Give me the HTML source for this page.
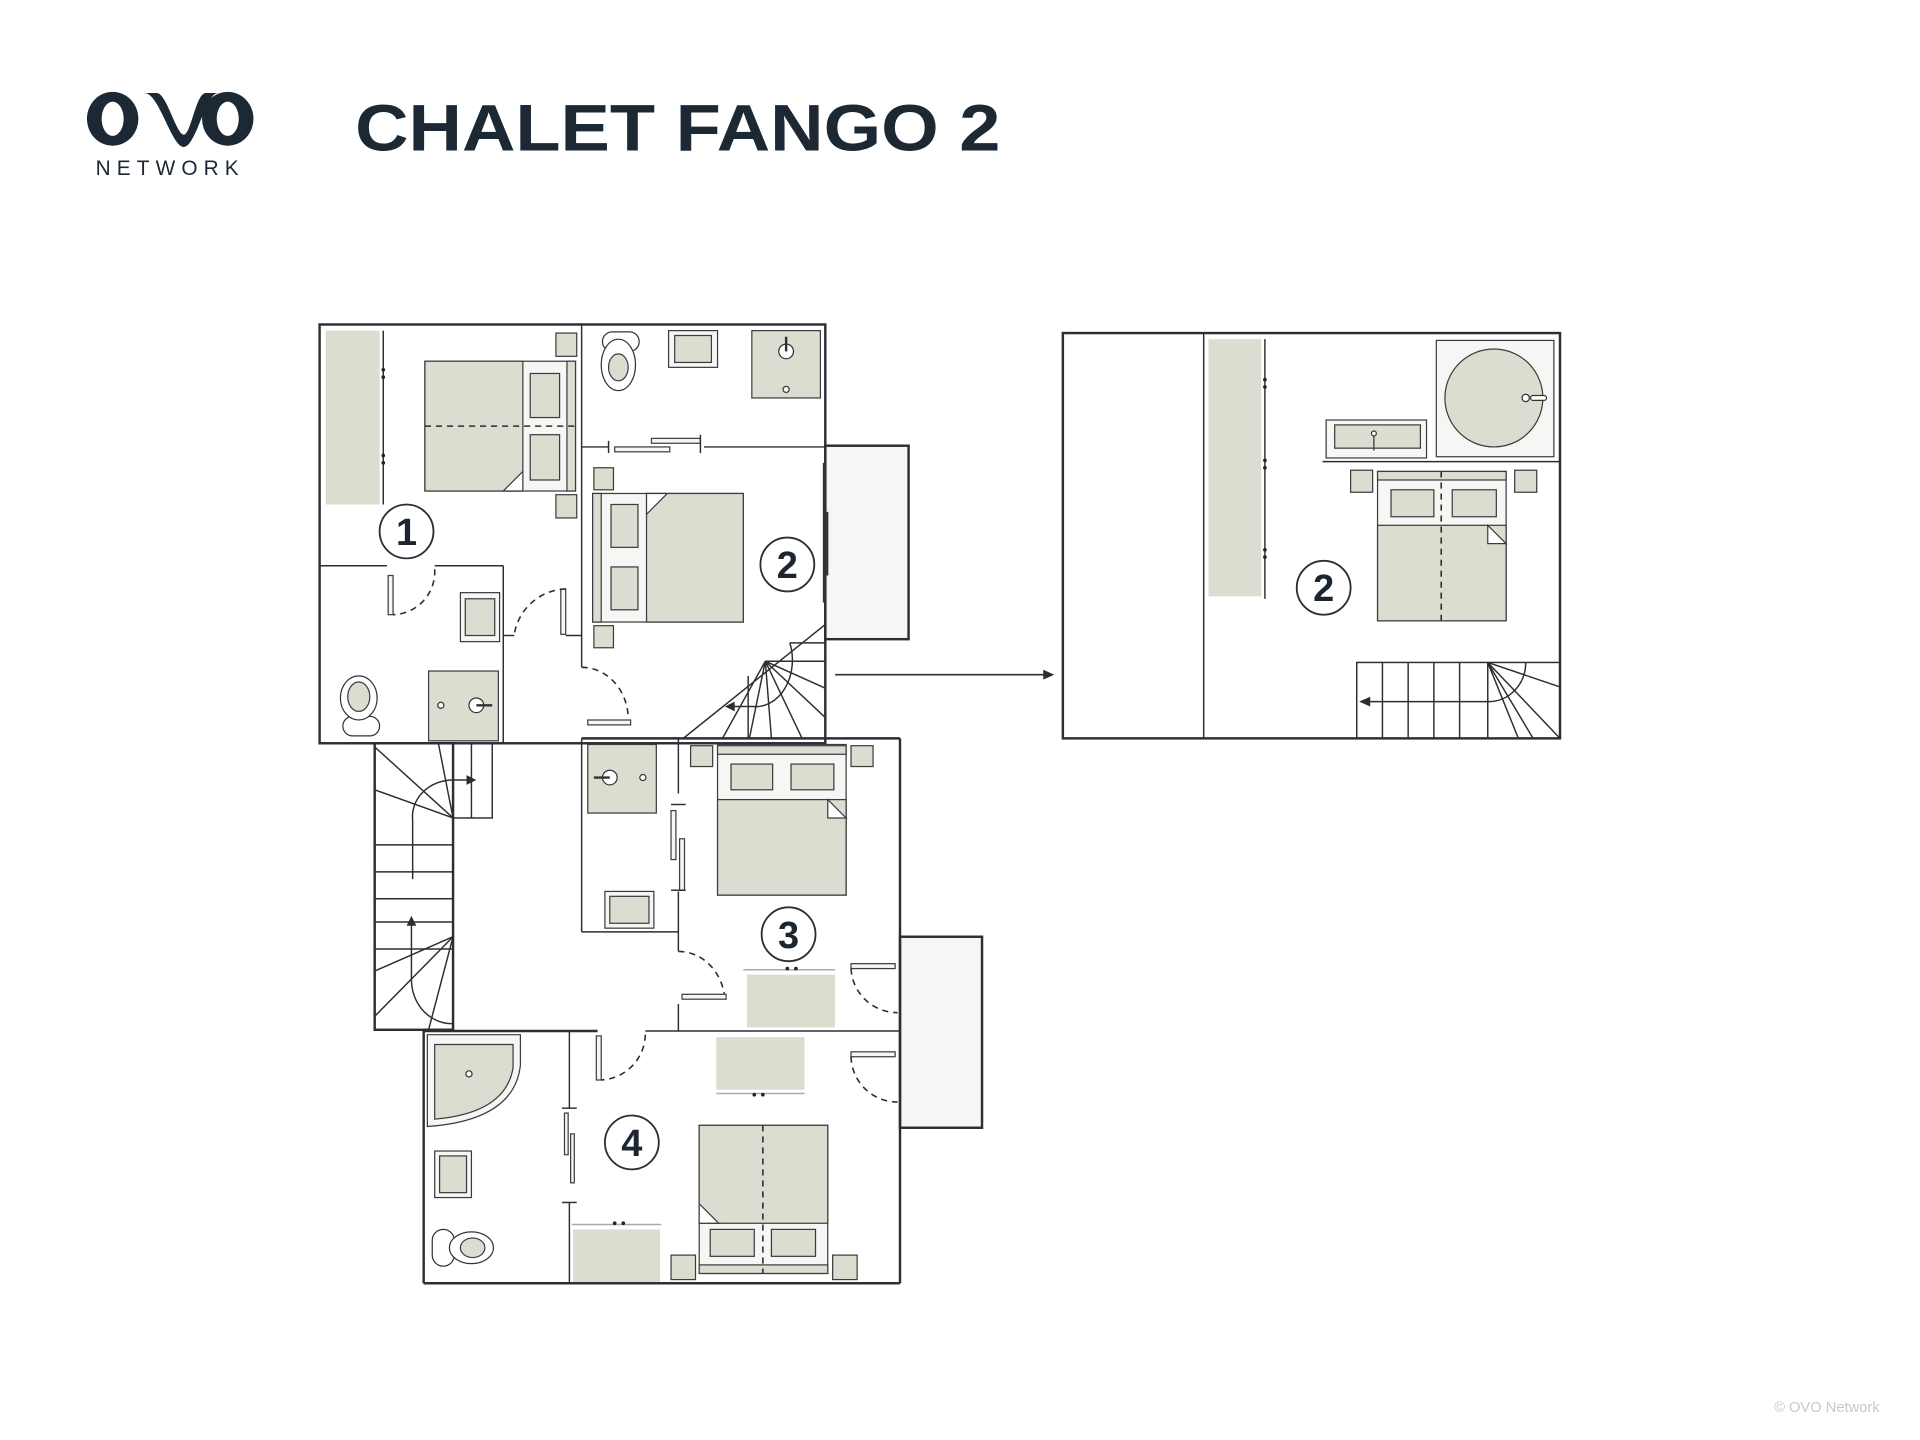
<!DOCTYPE html>
<html><head><meta charset="utf-8"><style>
html,body{margin:0;padding:0;background:#fff;}
svg{display:block}
</style></head><body>
<svg width="1920" height="1440" viewBox="0 0 1568 1176" preserveAspectRatio="none" xmlns="http://www.w3.org/2000/svg">
<defs>
<style>
.w{fill:none;stroke:#2b2f33;stroke-width:2}
.t{fill:none;stroke:#2b2f33;stroke-width:1.2}
.f{fill:#dcddd0;stroke:#3a3d3f;stroke-width:1}
.ff{fill:#dcddd0;stroke:none}
.wh{fill:#f6f6f4;stroke:#3a3d3f;stroke-width:1}
.d{fill:none;stroke:#2b2f33;stroke-width:1.3;stroke-dasharray:5 4}
.c{fill:#fff;stroke:#2b2f33;stroke-width:1.5}
.n{font-family:"Liberation Sans",sans-serif;font-weight:bold;font-size:31px;fill:#1c2530;text-anchor:middle}
</style>
</defs>
<!-- logo -->
<g fill="#1c2833">
<ellipse cx="92" cy="97" rx="21" ry="22"/>
<ellipse cx="186" cy="97" rx="21" ry="22"/>
<path d="M118 76 C130 76 140 120 150 120 C160 120 168 76 178 76 L168 76 C160 76 156 110 150 110 C144 110 136 76 128 76Z"/>
</g>
<ellipse cx="92" cy="97" rx="9" ry="14" fill="#fff"/>
<ellipse cx="186" cy="97" rx="9" ry="14" fill="#fff"/>
<text x="139" y="143" font-family="Liberation Sans,sans-serif" font-size="17" fill="#1c2833" text-anchor="middle" letter-spacing="5">NETWORK</text>
<text x="290" y="123" font-family="Liberation Sans,sans-serif" font-weight="bold" font-size="54" fill="#1c2833" textLength="527" lengthAdjust="spacingAndGlyphs">CHALET FANGO 2</text>
<text x="1535" y="1153" font-family="Liberation Sans,sans-serif" font-size="12" fill="#c8c8c8" text-anchor="end">© OVO Network</text>

<!-- balconies -->
<rect x="674" y="364" width="68" height="158" class="w" style="fill:#f6f6f6"/>
<rect x="735" y="765" width="67" height="156" class="w" style="fill:#f6f6f6"/>

<!-- main walls -->
<rect x="261" y="265" width="413" height="342" class="w"/>
<line x1="475" y1="265" x2="475" y2="545" class="t"/>
<line x1="475" y1="365" x2="497" y2="365" class="t"/><line x1="575" y1="365" x2="674" y2="365" class="t"/>
<line x1="261" y1="462" x2="316" y2="462" class="t"/><line x1="355" y1="462" x2="411" y2="462" class="t"/>
<line x1="411" y1="462" x2="411" y2="607" class="t"/>
<line x1="674" y1="510" x2="674" y2="603" class="t"/>
<line x1="558" y1="603" x2="674" y2="603" class="t"/>
<line x1="558" y1="603" x2="674" y2="510" class="t"/>
<g class="t">
<line x1="625" y1="540" x2="674" y2="540"/><line x1="625" y1="540" x2="674" y2="562"/><line x1="625" y1="540" x2="674" y2="586"/>
<line x1="625" y1="540" x2="655" y2="603"/><line x1="625" y1="540" x2="630" y2="603"/><line x1="625" y1="540" x2="612" y2="603"/>
<line x1="625" y1="540" x2="590" y2="603"/><line x1="645" y1="525" x2="674" y2="525"/>
<line x1="611" y1="552" x2="611" y2="603"/>
<path d="M645 525 A30 38 0 0 1 615 577 L598 577"/>
</g>
<polygon points="592,577 600,573 600,581" fill="#2b2f33"/>
<!-- left stair -->
<rect x="306" y="607" width="64" height="234" class="w"/>
<rect x="370" y="607" width="32" height="61" class="t"/>
<g class="t">
<line x1="306" y1="610" x2="370" y2="668"/><line x1="306" y1="645" x2="370" y2="668"/><line x1="358" y1="607" x2="370" y2="668"/>
<line x1="385" y1="607" x2="385" y2="668"/>
<line x1="306" y1="690" x2="370" y2="690"/><line x1="306" y1="712" x2="370" y2="712"/><line x1="306" y1="734" x2="370" y2="734"/>
<line x1="306" y1="753" x2="370" y2="753"/><line x1="306" y1="775" x2="370" y2="775"/>
<line x1="306" y1="793" x2="370" y2="765"/><line x1="306" y1="830" x2="370" y2="765"/><line x1="350" y1="841" x2="370" y2="765"/>
<path d="M337 718 L337 670 A33 30 0 0 1 370 637 L383 637"/>
<path d="M336 755 L336 800 A33 36 0 0 0 370 836"/>
</g>
<polygon points="389,637 381,633 381,641" fill="#2b2f33"/>
<polygon points="336,748 332,756 340,756" fill="#2b2f33"/>
<!-- room 3 block -->
<line x1="475" y1="603" x2="735" y2="603" class="w"/>
<line x1="735" y1="603" x2="735" y2="1048" class="w"/>
<line x1="475" y1="603" x2="475" y2="761" class="t"/>
<line x1="475" y1="761" x2="554" y2="761" class="t"/>
<line x1="554" y1="603" x2="554" y2="648" class="t"/><line x1="554" y1="728" x2="554" y2="777" class="t"/><line x1="554" y1="820" x2="554" y2="842" class="t"/>
<!-- room 4 block -->
<line x1="346" y1="842" x2="488" y2="842" class="w"/><line x1="527" y1="842" x2="735" y2="842" class="t"/>
<line x1="346" y1="842" x2="346" y2="1048" class="w"/>
<line x1="346" y1="1048" x2="735" y2="1048" class="w"/>
<line x1="465" y1="842" x2="465" y2="905" class="t"/><line x1="465" y1="982" x2="465" y2="1048" class="t"/>
<line x1="370" y1="841" x2="346" y2="841" class="w"/>

<!-- room1 furniture -->
<rect x="266" y="270" width="44" height="142" class="ff"/>
<line x1="313" y1="270" x2="313" y2="412" class="t"/>
<g fill="#222"><circle cx="313" cy="302" r="1.5"/><circle cx="313" cy="308" r="1.5"/><circle cx="313" cy="372" r="1.5"/><circle cx="313" cy="378" r="1.5"/></g>
<rect x="347" y="295" width="123" height="106" class="wh"/>
<rect x="347" y="295" width="80" height="106" class="f"/>
<rect x="433" y="305" width="24" height="36" class="f"/><rect x="433" y="355" width="24" height="37" class="f"/>
<rect x="463" y="295" width="7" height="106" class="f"/>
<polygon points="411,401 427,385 427,401" fill="#fff" stroke="#3a3d3f"/>
<line x1="347" y1="348" x2="470" y2="348" class="d" stroke-width="1"/>
<rect x="454" y="272" width="17" height="19" class="f"/><rect x="454" y="404" width="17" height="19" class="f"/>
<circle cx="332" cy="434" r="22" class="c"/><text x="332" y="445" class="n">1</text>
<!-- bath1 -->
<rect x="317" y="470" width="4" height="32" class="wh"/>
<path d="M355 465 A35 35 0 0 1 321 502" class="d"/>
<rect x="376" y="484" width="32" height="40" class="wh"/><rect x="380" y="489" width="24" height="30" class="f"/>
<rect x="350" y="548" width="57" height="57" class="f"/>
<circle cx="389" cy="576" r="6" fill="#fff" stroke="#333"/><line x1="389" y1="576" x2="402" y2="576" stroke="#333" stroke-width="2"/><circle cx="360" cy="576" r="2.5" fill="#fff" stroke="#333"/>
<rect x="280" y="585" width="30" height="16" rx="8" fill="#fff" stroke="#333"/>
<ellipse cx="293" cy="570" rx="15" ry="18" fill="#fff" stroke="#333"/><ellipse cx="293" cy="569" rx="9" ry="12" class="f"/>
<rect x="458" y="481" width="4" height="37" class="wh"/>
<path d="M462 481 A44 44 0 0 0 420 518" class="d"/>
<line x1="411" y1="519" x2="420" y2="519" class="t"/><line x1="462" y1="519" x2="475" y2="519" class="t"/>
<!-- room2 bath top -->
<rect x="492" y="271" width="30" height="16" rx="8" fill="#fff" stroke="#333"/>
<ellipse cx="505" cy="298" rx="14" ry="21" fill="#fff" stroke="#333"/><ellipse cx="505" cy="300" rx="8" ry="11" class="f"/>
<rect x="546" y="270" width="40" height="30" class="wh"/><rect x="551" y="274" width="30" height="22" class="f"/>
<rect x="614" y="270" width="56" height="55" class="f"/>
<circle cx="642" cy="287" r="6" fill="#fff" stroke="#333"/><line x1="642" y1="275" x2="642" y2="287" stroke="#333" stroke-width="2"/><circle cx="642" cy="318" r="2.5" fill="#fff" stroke="#333"/>
<rect x="502" y="365" width="45" height="4" class="wh"/><rect x="532" y="358" width="40" height="4" class="wh"/>
<line x1="497" y1="360" x2="497" y2="370" class="t"/><line x1="572" y1="355" x2="572" y2="370" class="t"/>
<!-- room2 -->
<rect x="484" y="403" width="123" height="105" class="wh"/>
<rect x="528" y="403" width="79" height="105" class="f"/>
<rect x="484" y="403" width="7" height="105" class="f"/>
<rect x="499" y="412" width="22" height="35" class="f"/><rect x="499" y="463" width="22" height="35" class="f"/>
<polygon points="528,403 545,403 528,420" fill="#fff" stroke="#3a3d3f"/>
<rect x="485" y="382" width="16" height="18" class="f"/><rect x="485" y="511" width="16" height="18" class="f"/>
<line x1="673" y1="378" x2="673" y2="492" stroke="#333" stroke-width="2"/>
<line x1="675" y1="418" x2="675" y2="470" stroke="#333" stroke-width="3"/>
<circle cx="643" cy="461" r="22" class="c"/><text x="643" y="472" class="n">2</text>
<path d="M475 545 A38 42 0 0 1 513 587" class="d"/>
<rect x="480" y="588" width="35" height="4" class="wh"/>
<!-- arrow -->
<line x1="682" y1="551" x2="853" y2="551" stroke="#2b2f33" stroke-width="1.3"/>
<polygon points="861,551 852,547 852,555" fill="#2b2f33"/>
<!-- room3 -->
<rect x="480" y="608" width="56" height="56" class="f"/>
<circle cx="498" cy="635" r="6" fill="#fff" stroke="#333"/><line x1="485" y1="635" x2="498" y2="635" stroke="#333" stroke-width="2"/><circle cx="525" cy="635" r="2.5" fill="#fff" stroke="#333"/>
<rect x="494" y="728" width="40" height="30" class="wh"/><rect x="498" y="732" width="32" height="22" class="f"/>
<rect x="548" y="662" width="4" height="40" class="wh"/><rect x="555" y="685" width="4" height="42" class="wh"/>
<line x1="548" y1="657" x2="560" y2="657" class="t"/><line x1="548" y1="727" x2="560" y2="727" class="t"/>
<rect x="586" y="608" width="105" height="123" class="wh"/>
<rect x="586" y="609" width="105" height="7" class="f"/>
<rect x="597" y="624" width="34" height="21" class="f"/><rect x="646" y="624" width="35" height="21" class="f"/>
<rect x="586" y="653" width="105" height="78" class="f"/>
<polygon points="676,653 691,668 676,668" fill="#fff" stroke="#3a3d3f"/>
<rect x="564" y="609" width="18" height="17" class="f"/><rect x="695" y="609" width="18" height="17" class="f"/>
<circle cx="644" cy="763" r="22" class="c"/><text x="644" y="774" class="n">3</text>
<rect x="610" y="796" width="72" height="43" class="ff"/><line x1="607" y1="792" x2="682" y2="792" stroke="#aaa" stroke-width="1.2"/>
<g fill="#222"><circle cx="643" cy="791" r="1.5"/><circle cx="650" cy="791" r="1.5"/></g>
<path d="M554 777 A38 42 0 0 1 592 818" class="d"/><rect x="557" y="812" width="36" height="4" class="wh"/>
<rect x="695" y="787" width="36" height="4" class="wh"/><path d="M695 791 A38 38 0 0 0 733 827" class="d"/>
<!-- room4 -->
<rect x="487" y="846" width="4" height="36" class="wh"/><path d="M527 845 A38 38 0 0 1 491 882" class="d"/>
<rect x="695" y="859" width="36" height="4" class="wh"/><path d="M695 863 A38 38 0 0 0 733 900" class="d"/>
<path d="M349 845 L425 845 L425 870 Q420 915 349 920 Z" class="wh"/>
<path d="M355 853 L419 853 L419 872 Q413 909 355 914 Z" class="f"/>
<circle cx="383" cy="877" r="2.5" fill="#fff" stroke="#333"/>
<rect x="355" y="940" width="30" height="38" class="wh"/><rect x="359" y="944" width="22" height="30" class="f"/>
<rect x="353" y="1004" width="18" height="30" rx="9" fill="#fff" stroke="#333"/>
<ellipse cx="385" cy="1019" rx="18" ry="13" fill="#fff" stroke="#333"/><ellipse cx="386" cy="1019" rx="10" ry="8" class="f"/>
<rect x="461" y="909" width="3" height="34" class="wh"/><rect x="466" y="926" width="3" height="40" class="wh"/>
<line x1="459" y1="905" x2="471" y2="905" class="t"/><line x1="459" y1="982" x2="471" y2="982" class="t"/>
<circle cx="516" cy="933" r="22" class="c"/><text x="516" y="944" class="n">4</text>
<rect x="585" y="847" width="72" height="43" class="ff"/><line x1="585" y1="893" x2="657" y2="893" stroke="#aaa" stroke-width="1.2"/>
<g fill="#222"><circle cx="616" cy="894" r="1.5"/><circle cx="623" cy="894" r="1.5"/></g>
<rect x="571" y="919" width="105" height="121" class="wh"/>
<rect x="571" y="919" width="105" height="80" class="f"/>
<polygon points="571,983 587,999 571,999" fill="#fff" stroke="#3a3d3f"/>
<rect x="580" y="1004" width="36" height="22" class="f"/><rect x="630" y="1004" width="36" height="22" class="f"/>
<rect x="571" y="1033" width="105" height="7" class="f"/>
<line x1="623" y1="919" x2="623" y2="1040" class="d" stroke-width="1"/>
<rect x="468" y="1004" width="71" height="43" class="ff"/><line x1="467" y1="1000" x2="540" y2="1000" stroke="#aaa" stroke-width="1.2"/>
<g fill="#222"><circle cx="502" cy="999" r="1.5"/><circle cx="509" cy="999" r="1.5"/></g>
<rect x="548" y="1025" width="20" height="20" class="f"/><rect x="680" y="1025" width="20" height="20" class="f"/>

<!-- loft -->
<rect x="868" y="272" width="406" height="331" class="w"/>
<line x1="983" y1="272" x2="983" y2="603" class="t"/>
<rect x="987" y="277" width="43" height="210" class="ff"/>
<line x1="1033" y1="277" x2="1033" y2="489" class="t"/>
<g fill="#222"><circle cx="1033" cy="310" r="1.5"/><circle cx="1033" cy="316" r="1.5"/><circle cx="1033" cy="376" r="1.5"/><circle cx="1033" cy="382" r="1.5"/><circle cx="1033" cy="449" r="1.5"/><circle cx="1033" cy="455" r="1.5"/></g>
<rect x="1173" y="278" width="96" height="95" class="wh"/>
<circle cx="1220" cy="325" r="40" class="f"/>
<circle cx="1246" cy="325" r="3" fill="#fff" stroke="#333"/><rect x="1250" y="323" width="13" height="4" rx="2" fill="#fff" stroke="#333"/>
<rect x="1083" y="343" width="82" height="31" class="wh"/><rect x="1090" y="347" width="70" height="19" class="f"/>
<circle cx="1122" cy="354" r="2" fill="#fff" stroke="#333"/><line x1="1122" y1="356" x2="1122" y2="368" stroke="#333"/>
<line x1="1080" y1="377" x2="1274" y2="377" class="t"/>
<rect x="1103" y="384" width="18" height="18" class="f"/><rect x="1237" y="384" width="18" height="18" class="f"/>
<rect x="1125" y="385" width="105" height="122" class="wh"/>
<rect x="1125" y="385" width="105" height="7" class="f"/>
<rect x="1136" y="400" width="35" height="22" class="f"/><rect x="1186" y="400" width="36" height="22" class="f"/>
<rect x="1125" y="429" width="105" height="78" class="f"/>
<polygon points="1215,429 1230,444 1215,444" fill="#fff" stroke="#3a3d3f"/>
<line x1="1177" y1="385" x2="1177" y2="507" class="d" stroke="#999" stroke-width="1"/>
<circle cx="1081" cy="480" r="22" class="c"/><text x="1081" y="491" class="n">2</text>
<rect x="1108" y="541" width="166" height="62" class="t"/>
<g class="t">
<line x1="1129" y1="541" x2="1129" y2="603"/><line x1="1150" y1="541" x2="1150" y2="603"/><line x1="1171" y1="541" x2="1171" y2="603"/>
<line x1="1192" y1="541" x2="1192" y2="603"/><line x1="1215" y1="541" x2="1215" y2="603"/>
<line x1="1215" y1="541" x2="1274" y2="561"/><line x1="1215" y1="541" x2="1274" y2="603"/><line x1="1215" y1="541" x2="1252" y2="603"/><line x1="1215" y1="541" x2="1240" y2="603"/>
<path d="M1246 541 A30 32 0 0 1 1216 573 L1117 573"/>
</g>
<polygon points="1110,573 1119,569 1119,577" fill="#2b2f33"/>
</svg>
</body></html>
